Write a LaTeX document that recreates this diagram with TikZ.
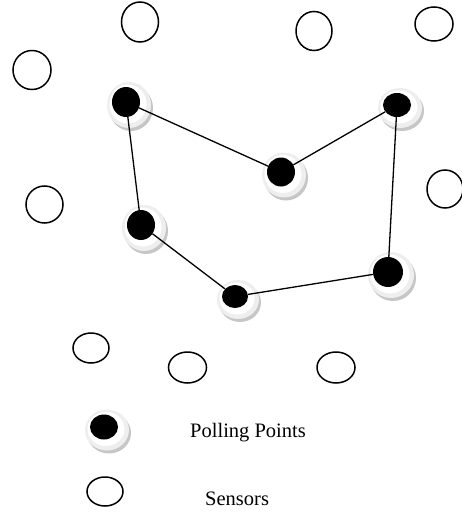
\documentclass[tikz,border=0pt]{standalone}
\usepackage{fontspec}
\setmainfont{Liberation Serif}
\usetikzlibrary{shapes.geometric,shadows}
\tikzset{
  sensor/.style 2 args={ellipse, draw=black, line width=1.5pt, inner sep=0pt,
    minimum width=#1pt, minimum height=#2pt},
  pollcore/.style 2 args={ellipse, fill=black, draw=none, inner sep=0pt,
    minimum width=#1pt, minimum height=#2pt},
  ringshadow/.style={fill=gray!45, draw=none},
  ringouter/.style={fill=gray!13, draw=none},
  ringinner/.style={fill=white, draw=none},
  link/.style={draw=black, line width=1.3pt},
  label/.style={font=\fontsize{20.5}{23}\selectfont, inner sep=0pt}
}
% \pollpt{name}{x}{y}{rx}{ry}
\newcommand\pollpt[5]{%
  \fill[ringshadow] (#2+5,#3+6) ellipse ({#4+8} and {#5+8});
  \fill[ringouter] (#2+3,#3+3) ellipse ({#4+8} and {#5+8});
  \fill[ringinner] (#2+2,#3+2) ellipse ({#4+4.5} and {#5+4.5});
  \node[pollcore={2*#4}{2*#5}] (#1) at (#2,#3) {};
}
\begin{document}
\begin{tikzpicture}[x=1pt,y=-1pt]
\useasboundingbox (0,0) rectangle (462,513);
\begin{scope}
\clip (0,0) rectangle (462,513);
% sensors
\node[sensor={37}{40}] (s1) at (140,22) {};
\node[sensor={36}{39}] (s2) at (314,31) {};
\node[sensor={38}{34}] (s3) at (434,24) {};
\node[sensor={38}{39}] (s4) at (32,70) {};
\node[sensor={37}{37}] (s5) at (44.5,204.5) {};
\node[sensor={36}{38}] (s6) at (445,189) {};
\node[sensor={36}{30}] (s7) at (91,348) {};
\node[sensor={38}{31}] (s8) at (187.5,367.5) {};
\node[sensor={38}{31}] (s9) at (336,367.5) {};
\end{scope}
% polling points
\pollpt{A}{126}{102}{14}{15}
\pollpt{B}{281}{172}{14}{14.5}
\pollpt{C}{397}{105}{14}{12}
\pollpt{D}{141}{225}{14}{15}
\pollpt{E}{235}{296.5}{13}{11.5}
\pollpt{F}{388}{272}{15}{15}
% tour
\draw[link] (A) -- (B);
\draw[link] (B) -- (C);
\draw[link] (C) -- (F);
\draw[link] (F) -- (E);
\draw[link] (E) -- (D);
\draw[link] (D) -- (A);
% legend
\pollpt{LP}{104}{427}{14}{12.5}
\node[sensor={36}{29}] (LS) at (105,491.5) {};
\node[label, anchor=west] (tp) at (190,433) {Polling Points};
\node[label, anchor=west] (ts) at (205,499) {Sensors};
\end{tikzpicture}
\end{document}
